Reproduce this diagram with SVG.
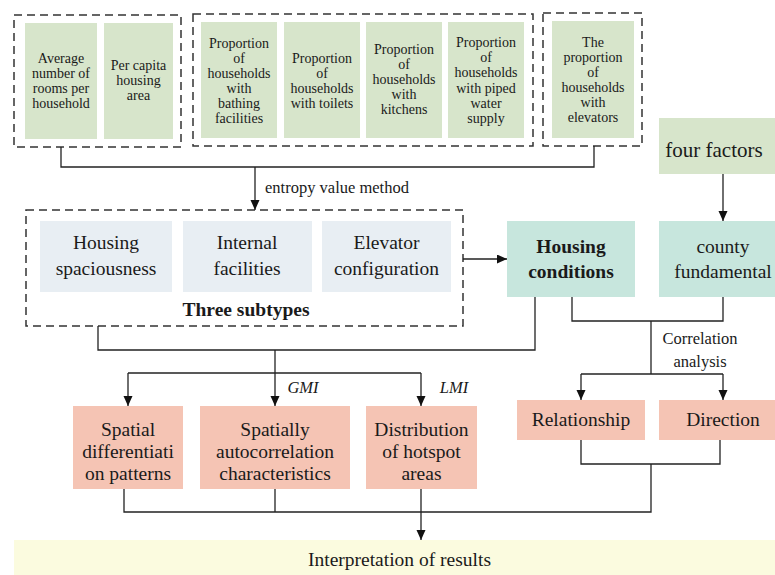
<svg xmlns="http://www.w3.org/2000/svg" width="775" height="575" viewBox="0 0 775 575">
<style>
text{font-family:"Liberation Serif","Times New Roman",serif;fill:#1a1a1a;text-anchor:middle}
.s14{font-size:14px}
.s19{font-size:19.5px}
.b{font-weight:bold}
.it{font-style:italic}
.green{fill:#d7e5cb}
.gray{fill:#e8eef3}
.teal{fill:#c7e6dd}
.pink{fill:#f5c4b4}
.yellow{fill:#fbfbdf}
.dash{fill:none;stroke:#333;stroke-width:1.5;stroke-dasharray:8 5}
.ln{fill:none;stroke:#222;stroke-width:1.3}
</style>
<defs>
<marker id="ah" markerUnits="userSpaceOnUse" markerWidth="10" markerHeight="10" refX="10" refY="4.5" orient="auto">
<path d="M0,0 L10,4.5 L0,9 z" fill="#111"/>
</marker>
</defs>
<rect width="775" height="575" fill="#fff"/>

<g id="group-spaciousness-indicators">
<rect class="dash" x="14" y="15" width="167" height="132"/>
<g id="n-rooms"><rect class="green" x="25" y="23" width="72" height="116"/>
<text class="s14" x="61" y="63">Average</text><text class="s14" x="61" y="78">number of</text><text class="s14" x="61" y="93">rooms per</text><text class="s14" x="61" y="108">household</text></g>
<g id="n-area"><rect class="green" x="104" y="23" width="69" height="116"/>
<text class="s14" x="138.5" y="70">Per capita</text><text class="s14" x="138.5" y="85">housing</text><text class="s14" x="138.5" y="100">area</text></g>
</g>

<g id="group-facility-indicators">
<rect class="dash" x="193" y="14" width="340" height="132"/>
<g id="n-bathing"><rect class="green" x="201" y="22" width="76" height="116"/>
<text class="s14" x="239" y="48">Proportion</text><text class="s14" x="239" y="63">of</text><text class="s14" x="239" y="78">households</text><text class="s14" x="239" y="93">with</text><text class="s14" x="239" y="108">bathing</text><text class="s14" x="239" y="123">facilities</text></g>
<g id="n-toilets"><rect class="green" x="284" y="22" width="76" height="116"/>
<text class="s14" x="322" y="63">Proportion</text><text class="s14" x="322" y="78">of</text><text class="s14" x="322" y="93">households</text><text class="s14" x="322" y="108">with toilets</text></g>
<g id="n-kitchens"><rect class="green" x="366" y="22" width="76" height="116"/>
<text class="s14" x="404" y="54">Proportion</text><text class="s14" x="404" y="69">of</text><text class="s14" x="404" y="84">households</text><text class="s14" x="404" y="99">with</text><text class="s14" x="404" y="114">kitchens</text></g>
<g id="n-water"><rect class="green" x="448" y="22" width="76" height="116"/>
<text class="s14" x="486" y="47">Proportion</text><text class="s14" x="486" y="62">of</text><text class="s14" x="486" y="77">households</text><text class="s14" x="486" y="93">with piped</text><text class="s14" x="486" y="108">water</text><text class="s14" x="486" y="123">supply</text></g>
</g>

<g id="group-elevator-indicators">
<rect class="dash" x="543" y="13" width="99" height="133"/>
<g id="n-elevators"><rect class="green" x="552" y="21" width="82" height="117"/>
<text class="s14" x="593" y="47">The</text><text class="s14" x="593" y="62">proportion</text><text class="s14" x="593" y="77">of</text><text class="s14" x="593" y="92">households</text><text class="s14" x="593" y="107">with</text><text class="s14" x="593" y="122">elevators</text></g>
</g>

<g id="n-four-factors"><rect class="green" x="659" y="118" width="116" height="56"/>
<text class="s19" x="714" y="157" style="font-size:21px">four factors</text></g>

<g id="group-three-subtypes">
<rect class="dash" x="26" y="210" width="437" height="116"/>
<g id="n-spaciousness"><rect class="gray" x="40" y="221" width="132" height="71"/>
<text class="s19" x="106" y="249">Housing</text><text class="s19" x="106" y="275">spaciousness</text></g>
<g id="n-internal"><rect class="gray" x="183" y="221" width="129" height="71"/>
<text class="s19" x="247" y="249">Internal</text><text class="s19" x="247" y="275">facilities</text></g>
<g id="n-elevator-config"><rect class="gray" x="322" y="221" width="129" height="71"/>
<text class="s19" x="386.5" y="249">Elevator</text><text class="s19" x="386.5" y="275">configuration</text></g>
<text class="s19 b" x="246" y="316">Three subtypes</text>
</g>

<g id="n-housing-conditions"><rect class="teal" x="507" y="221" width="128" height="76"/>
<text class="s19 b" x="571" y="253">Housing</text><text class="s19 b" x="571" y="278">conditions</text></g>

<g id="n-county"><rect class="teal" x="659" y="221" width="116" height="76"/>
<text class="s19" x="723" y="253">county</text><text class="s19" x="723" y="278">fundamental</text></g>

<g id="n-spatial-diff"><rect class="pink" x="73" y="406" width="110" height="83"/>
<text class="s19" x="128" y="436">Spatial</text><text class="s19" x="128" y="458">differentiati</text><text class="s19" x="128" y="480">on patterns</text></g>
<g id="n-autocorr"><rect class="pink" x="200" y="406" width="150" height="83"/>
<text class="s19" x="275" y="436">Spatially</text><text class="s19" x="275" y="458">autocorrelation</text><text class="s19" x="275" y="480">characteristics</text></g>
<g id="n-hotspot"><rect class="pink" x="366" y="406" width="111" height="83"/>
<text class="s19" x="421.5" y="436">Distribution</text><text class="s19" x="421.5" y="458">of hotspot</text><text class="s19" x="421.5" y="480">areas</text></g>
<g id="n-relationship"><rect class="pink" x="517" y="400" width="128" height="40"/>
<text class="s19" x="581" y="426">Relationship</text></g>
<g id="n-direction"><rect class="pink" x="659" y="400" width="116" height="40"/>
<text class="s19" x="723" y="426">Direction</text></g>

<g id="n-interpretation"><rect class="yellow" x="14" y="540" width="761" height="35"/>
<text class="s19" x="399.5" y="566">Interpretation of results</text></g>

<g id="connectors">
<path class="ln" d="M61 147 V167 H594 V146"/>
<path class="ln" d="M255 167 V210" marker-end="url(#ah)"/>
<path class="ln" d="M723 174 V221" marker-end="url(#ah)"/>
<path class="ln" d="M463 259 H507" marker-end="url(#ah)"/>
<path class="ln" d="M98 326 V350 H535 V297"/>
<path class="ln" d="M275 350 V406" marker-end="url(#ah)"/>
<path class="ln" d="M128 373 H421"/>
<path class="ln" d="M128 373 V406" marker-end="url(#ah)"/>
<path class="ln" d="M421 373 V406" marker-end="url(#ah)"/>
<path class="ln" d="M572 297 V321 H723 V297"/>
<path class="ln" d="M651 321 V374"/>
<path class="ln" d="M581 374 H723"/>
<path class="ln" d="M581 374 V400" marker-end="url(#ah)"/>
<path class="ln" d="M723 374 V400" marker-end="url(#ah)"/>
<path class="ln" d="M124 489 V512 H651 V464"/>
<path class="ln" d="M275 489 V512"/>
<path class="ln" d="M421 489 V540" marker-end="url(#ah)"/>
<path class="ln" d="M581 440 V464 H720 V440"/>
<text x="337" y="193" style="font-size:16.5px">entropy value method</text>
<text x="700" y="344" style="font-size:16.5px">Correlation</text>
<text x="700" y="367" style="font-size:16.5px">analysis</text>
<text class="it" x="303" y="393" style="font-size:16.5px">GMI</text>
<text class="it" x="454" y="393" style="font-size:16.5px">LMI</text>
</g>
</svg>
